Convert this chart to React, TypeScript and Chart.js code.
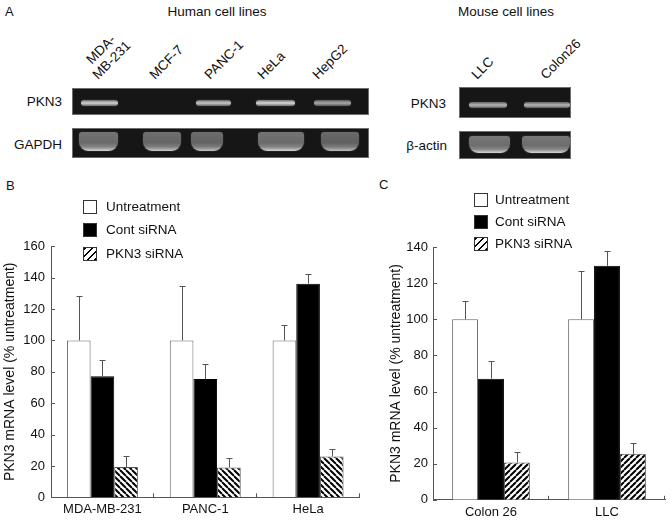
import React, { useEffect, useRef } from "react";
import { Chart, registerables } from "chart.js";
Chart.register(...registerables);

const FONT = "'Liberation Sans', Arial, Helvetica, sans-serif";

// ---------- Panel B (human cell lines) ----------
const humanCategories = ["MDA-MB-231", "PANC-1", "HeLa"];
const humanUntreatment = [100, 100, 100];
const humanUntreatmentErr = [28.6, 34.6, 9.8];
const humanContSiRNA = [77.2, 75.4, 136.2];
const humanContSiRNAErr = [10.4, 9.6, 6.3];
const humanPKN3SiRNA = [19.3, 19.0, 26.0];
const humanPKN3SiRNAErr = [7.2, 5.8, 4.9];
const humanYMax = 160;
const humanYStep = 20;

// ---------- Panel C (mouse cell lines) ----------
const mouseCategories = ["Colon 26", "LLC"];
const mouseUntreatment = [100, 100];
const mouseUntreatmentErr = [10.3, 26.6];
const mouseContSiRNA = [67.1, 129.6];
const mouseContSiRNAErr = [9.6, 8.3];
const mousePKN3SiRNA = [20.7, 25.5];
const mousePKN3SiRNAErr = [5.8, 5.8];
const mouseYMax = 140;
const mouseYStep = 20;

const seriesNames = ["Untreatment", "Cont siRNA", "PKN3 siRNA"];
const yTitle = "PKN3 mRNA level (% untreatment)";

// ---------- Panel A (gels) ----------
const humanLaneLabels = ["MDA-\nMB-231", "MCF-7", "PANC-1", "HeLa", "HepG2"];
const humanPKN3Intensity = [0.85, 0.0, 0.8, 0.88, 0.65];
const humanGAPDHIntensity = [0.85, 0.8, 0.78, 0.85, 0.75];
const mouseLaneLabels = ["LLC", "Colon26"];
const mousePKN3Intensity = [0.72, 0.72];
const mouseActinIntensity = [0.88, 0.88];

// layout for gel lanes (absolute x ranges)
const humanPKN3Bands = [[80, 117], [142, 180], [195, 230], [255, 294], [313, 350]];
const humanGAPDHBands = [[78, 117], [142, 180], [190, 222], [257, 303], [320, 358]];
const humanLabelStarts = [[100, 82], [157, 82], [212, 82], [265, 82], [320, 82]];
const mousePKN3Bands = [[468, 506], [523, 569]];
const mouseActinBands = [[468, 509], [521, 569]];
const mouseLabelStarts = [[479, 82], [548, 82]];

function makeHatch(ctx: CanvasRenderingContext2D, forward: boolean) {
  const s = 6;
  const c = document.createElement("canvas");
  c.width = s;
  c.height = s;
  const g = c.getContext("2d")!;
  g.fillStyle = "#fff";
  g.fillRect(0, 0, s, s);
  g.strokeStyle = "#000";
  g.lineWidth = 2;
  g.beginPath();
  for (let k = -1; k <= 1; k++) {
    if (forward) {
      g.moveTo(k * s, s);
      g.lineTo(k * s + s, 0);
    } else {
      g.moveTo(k * s, 0);
      g.lineTo(k * s + s, s);
    }
  }
  g.stroke();
  return ctx.createPattern(c, "repeat")!;
}

const errorBarPlugin = {
  id: "errorBars",
  afterDatasetsDraw(chart: any) {
    const { ctx } = chart;
    const y = chart.scales.y;
    chart.data.datasets.forEach((ds: any, di: number) => {
      const meta = chart.getDatasetMeta(di);
      meta.data.forEach((bar: any, i: number) => {
        const v = ds.data[i];
        const e = ds.errors[i];
        const x = Math.round(bar.x) + 0.5;
        const y0 = y.getPixelForValue(v);
        const y1 = Math.round(y.getPixelForValue(v + e)) + 0.5;
        ctx.save();
        ctx.strokeStyle = "#555";
        ctx.lineWidth = 1;
        ctx.beginPath();
        ctx.moveTo(x, y0);
        ctx.lineTo(x, y1);
        ctx.moveTo(x - 3, y1);
        ctx.lineTo(x + 3, y1);
        ctx.stroke();
        ctx.restore();
      });
    });
  },
};

const inwardTicksPlugin = {
  id: "inwardTicks",
  afterDraw(chart: any) {
    const { ctx, chartArea: a } = chart;
    const x = chart.scales.x;
    const y = chart.scales.y;
    ctx.save();
    ctx.strokeStyle = "#555";
    ctx.lineWidth = 1;
    ctx.beginPath();
    y.ticks.forEach((t: any) => {
      const py = Math.round(y.getPixelForValue(t.value)) + 0.5;
      ctx.moveTo(a.left, py);
      ctx.lineTo(a.left + 4, py);
    });
    const n = x.ticks.length;
    for (let i = 1; i <= n; i++) {
      const px = Math.round(x.getPixelForValue(i - 0.5)) - 0.5;
      ctx.moveTo(px, a.bottom);
      ctx.lineTo(px, a.bottom - 4);
    }
    ctx.stroke();
    ctx.restore();
  },
};

type BarCfg = {
  categories: string[];
  series: number[][];
  errors: number[][];
  yMax: number;
  yStep: number;
  forwardHatch: boolean;
  yAxisWidth: number;
  xAxisHeight: number;
  padTop: number;
  padRight: number;
  titlePad: number;
  tickPad: number;
  xTickPad: number;
  catPct: number;
};

function BarPanel({ left, top, width, height, cfg }: { left: number; top: number; width: number; height: number; cfg: BarCfg }) {
  const ref = useRef<HTMLCanvasElement>(null);
  useEffect(() => {
    const canvas = ref.current!;
    const ctx = canvas.getContext("2d")!;
    const hatch = makeHatch(ctx, cfg.forwardHatch);
    const fills = ["#fff", "#000", hatch];
    const borders = ["#666", "#000", "#555"];
    const chart = new Chart(canvas, {
      type: "bar",
      data: {
        labels: cfg.categories,
        datasets: cfg.series.map((d, i) => ({
          label: seriesNames[i],
          data: d,
          errors: cfg.errors[i],
          backgroundColor: fills[i],
          borderColor: borders[i],
          borderWidth: 1,
          categoryPercentage: cfg.catPct,
          barPercentage: 1,
        })) as any,
      },
      options: {
        responsive: false,
        animation: false,
        layout: { padding: { top: cfg.padTop, right: cfg.padRight, left: 0, bottom: 0 } },
        plugins: { legend: { display: false }, tooltip: { enabled: false } },
        scales: {
          x: {
            grid: { display: false, drawTicks: false },
            border: { display: true, color: "#555", width: 1 },
            ticks: { color: "#111", font: { family: FONT, size: 13 }, padding: cfg.xTickPad, maxRotation: 0 },
            afterFit: (s: any) => {
              s.height = cfg.xAxisHeight;
            },
          } as any,
          y: {
            min: 0,
            max: cfg.yMax,
            grid: { display: false, drawTicks: false },
            border: { display: true, color: "#555", width: 1 },
            ticks: { stepSize: cfg.yStep, color: "#111", font: { family: FONT, size: 13 }, padding: cfg.tickPad },
            title: {
              display: true,
              text: yTitle,
              color: "#111",
              font: { family: FONT, size: 14 },
              padding: { top: cfg.titlePad, bottom: 0 },
            },
            afterFit: (s: any) => {
              s.width = cfg.yAxisWidth;
            },
          } as any,
        },
      },
      plugins: [errorBarPlugin, inwardTicksPlugin],
    });
    return () => chart.destroy();
  }, []);
  return (
    <canvas
      ref={ref}
      width={width}
      height={height}
      style={{ position: "absolute", left, top, width, height, display: "block" }}
    />
  );
}

function Legend({ left, top, gap, textLeft }: { left: number; top: number; gap: number; textLeft: number }) {
  const boxStyles: React.CSSProperties[] = [
    { background: "#fff" },
    { background: "#000" },
    { background: "repeating-linear-gradient(135deg, #000 0px, #000 2px, #fff 2px, #fff 5px)" },
  ];
  return (
    <>
      {seriesNames.map((n, i) => (
        <React.Fragment key={n}>
          <div
            style={{
              position: "absolute",
              left,
              top: top + i * gap,
              width: 12,
              height: 12,
              border: "1px solid #333",
              ...boxStyles[i],
            }}
          />
          <div
            style={{
              position: "absolute",
              left: textLeft,
              top: top + i * gap - 1,
              fontSize: 13.5,
              lineHeight: "16px",
              color: "#111",
              whiteSpace: "nowrap",
            }}
          >
            {n}
          </div>
        </React.Fragment>
      ))}
    </>
  );
}

function Text({ x, y, children, align = "left", size = 13.5 }: any) {
  const style: React.CSSProperties = {
    position: "absolute",
    top: y - 8,
    fontSize: size,
    lineHeight: "16px",
    color: "#111",
    whiteSpace: "nowrap",
  };
  if (align === "right") {
    style.right = 672 - x;
  } else if (align === "center") {
    style.left = x;
    style.transform = "translateX(-50%)";
  } else {
    style.left = x;
  }
  return <div style={style}>{children}</div>;
}

function RotLabel({ x, y, text }: { x: number; y: number; text: string }) {
  const lines = text.split("\n").length;
  const lh = 15;
  return (
    <div
      style={{
        position: "absolute",
        left: x,
        top: y - lines * lh,
        height: lines * lh,
        lineHeight: lh + "px",
        fontSize: 13.5,
        color: "#111",
        whiteSpace: "pre",
        textAlign: "center",
        transformOrigin: "0% 100%",
        transform: "rotate(-45deg)",
      }}
    >
      {text}
    </div>
  );
}

function Gel({
  left,
  top,
  width,
  height,
  bands,
  intensity,
  bandTop,
  bandH,
  thick,
}: {
  left: number;
  top: number;
  width: number;
  height: number;
  bands: number[][];
  intensity: number[];
  bandTop: number;
  bandH: number;
  thick: boolean;
}) {
  return (
    <div
      style={{
        position: "absolute",
        left,
        top,
        width,
        height,
        background: "#161616",
        border: "1px solid #6d6d6d",
        boxSizing: "border-box",
        overflow: "hidden",
      }}
    >
      {bands.map(([a, b], i) => {
        const k = intensity[i];
        if (k <= 0) return null;
        const hi = Math.round(40 + k * 200);
        const mid = Math.round(25 + k * 95);
        const bg = thick
          ? `linear-gradient(to bottom, rgb(${mid + 10},${mid + 10},${mid + 10}) 0%, rgb(${mid},${mid},${mid}) 55%, rgb(${mid + 25},${mid + 25},${mid + 25}) 78%, rgb(${hi},${hi},${hi}) 100%)`
          : `linear-gradient(to bottom, rgb(${mid},${mid},${mid}) 0%, rgb(${hi},${hi},${hi}) 50%, rgb(${mid},${mid},${mid}) 100%)`;
        return (
          <div
            key={i}
            style={{
              position: "absolute",
              left: a - left,
              top: bandTop,
              width: b - a,
              height: bandH,
              background: bg,
              borderRadius: thick ? "3px 3px 9px 9px" : "3px",
              boxShadow: `0 0 2px rgba(200,200,200,${0.3 * k})`,
            }}
          />
        );
      })}
    </div>
  );
}

export default function App() {
  const cfgB: BarCfg = {
    categories: humanCategories,
    series: [humanUntreatment, humanContSiRNA, humanPKN3SiRNA],
    errors: [humanUntreatmentErr, humanContSiRNAErr, humanPKN3SiRNAErr],
    yMax: humanYMax,
    yStep: humanYStep,
    forwardHatch: false,
    yAxisWidth: 51,
    xAxisHeight: 26.7,
    padTop: 16.3,
    padRight: 12.5,
    titlePad: 2,
    tickPad: 6,
    xTickPad: 4,
    catPct: 0.69,
  };
  const cfgC: BarCfg = {
    categories: mouseCategories,
    series: [mouseUntreatment, mouseContSiRNA, mousePKN3SiRNA],
    errors: [mouseUntreatmentErr, mouseContSiRNAErr, mousePKN3SiRNAErr],
    yMax: mouseYMax,
    yStep: mouseYStep,
    forwardHatch: true,
    yAxisWidth: 61,
    xAxisHeight: 24.2,
    padTop: 17.1,
    padRight: 7,
    titlePad: 15.6,
    tickPad: 5,
    xTickPad: 5,
    catPct: 0.67,
  };

  return (
    <div
      style={{
        position: "fixed",
        left: 0,
        top: 0,
        width: 672,
        height: 524,
        background: "#fff",
        overflow: "hidden",
        fontFamily: FONT,
      }}
    >
      {/* Panel A */}
      <Text x={5} y={12} size={13}>A</Text>
      <Text x={217} y={12} align="center">Human cell lines</Text>
      <Text x={506} y={12} align="center">Mouse cell lines</Text>

      {humanLaneLabels.map((t, i) => (
        <RotLabel key={t} x={humanLabelStarts[i][0]} y={humanLabelStarts[i][1]} text={t} />
      ))}
      {mouseLaneLabels.map((t, i) => (
        <RotLabel key={t} x={mouseLabelStarts[i][0]} y={mouseLabelStarts[i][1]} text={t} />
      ))}

      <Text x={62} y={102} align="right">PKN3</Text>
      <Text x={62} y={145} align="right">GAPDH</Text>
      <Text x={446} y={104} align="right">PKN3</Text>
      <Text x={447} y={146} align="right">β-actin</Text>

      <Gel left={72} top={88} width={297} height={27} bands={humanPKN3Bands} intensity={humanPKN3Intensity} bandTop={11} bandH={6} thick={false} />
      <Gel left={72} top={128} width={297} height={30} bands={humanGAPDHBands} intensity={humanGAPDHIntensity} bandTop={3} bandH={19} thick={true} />
      <Gel left={459} top={87} width={112} height={31} bands={mousePKN3Bands} intensity={mousePKN3Intensity} bandTop={14} bandH={6} thick={false} />
      <Gel left={459} top={131} width={112} height={28} bands={mouseActinBands} intensity={mouseActinIntensity} bandTop={4} bandH={17} thick={true} />

      {/* Panel B */}
      <Text x={6} y={186} size={13}>B</Text>
      <BarPanel left={0} top={230} width={372} height={294} cfg={cfgB} />
      <Legend left={83} top={200} gap={23.3} textLeft={106} />

      {/* Panel C */}
      <Text x={379} y={185} size={13}>C</Text>
      <BarPanel left={372} top={230} width={300} height={294} cfg={cfgC} />
      <Legend left={474} top={192.5} gap={22} textLeft={495} />
    </div>
  );
}
